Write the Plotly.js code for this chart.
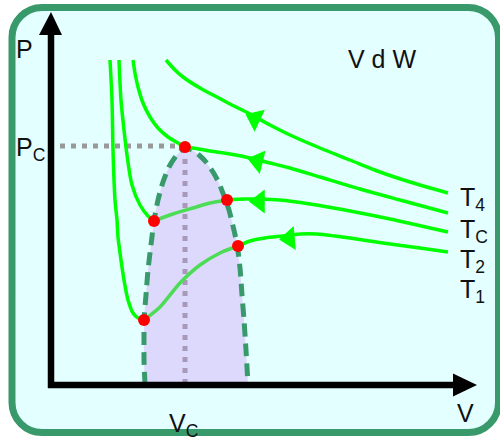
<!DOCTYPE html>
<html><head><meta charset="utf-8">
<script src="https://cdn.plot.ly/plotly-3.0.1.min.js"></script>
<style>html,body{margin:0;padding:0;background:#fff}#chart{width:500px;height:437px}</style>
</head><body><div id="chart"></div>
<script>
// ---- data (V, P in arbitrary units, origin at the axes corner) ----
const t1LeftV  = [59,61,62,64,66,67,70,73,77,82,87,93];
const t1LeftP  = [325,285,235,185,165,148,125,105,85,72,67,65];
const t1InV    = [93,109,129,149,169,187];
const t1InP    = [65,78,102,120,132,139];
const t1RightV = [187,199,214,232,249,266,284,299,332,369,397];
const t1RightP = [139,144,147,149,151,151,149,147,142,137,133];

const t2LeftV  = [68,70,73,76,81,89,97,103];
const t2LeftP  = [325,285,255,230,200,180,169,164];
const t2InV    = [103,122,142,159,176];
const t2InP    = [164,171,177,182,185];
const t2RightV = [176,194,209,229,259,299,339,397];
const t2RightP = [185,186,186,185,181,174,166,153];

const tcV = [82,84,87,92,99,107,117,127,134,142,159,179,199,219,239,269,309,349,397];
const tcP = [325,312,298,282,268,257,248,242,238,237,234,231,227,222,217,208,196,185,172];

const t4V = [115,124,132,149,166,179,199,219,239,269,299,329,359,397];
const t4P = [325,315,308,297,288,281,271,260,250,237,225,213,203,192];

const domeV = [94,93,93,93,95,97,100,103,107,112,118,125,131,135,141,148,155,162,168,173,178,182,186,189,191,193,195,197];
const domeP = [0,25,50,65,90,115,140,164,185,203,218,229,235,237,235,230,223,213,202,189,175,159,141,117,90,65,35,0];

const pointV = [93,103,134,176,187];
const pointP = [65,164,238,185,139];

const arrowV = [204,206.6,208.5,238.5];
const arrowP = [266.4,224,183.5,146.5];
const arrowAngle = [25,14,0,-5];

const critV = 134, critP = 238;
const labels = ["P","P<sub>C</sub>","V d W","T<sub>4</sub>","T<sub>C</sub>","T<sub>2</sub>","T<sub>1</sub>","V","V<sub>C</sub>"];

// ---- styles ----
const LIME = '#00ff00', INNER = '#4ddc55';
const FONT = {family:'Liberation Sans, Arial, sans-serif', size:25, color:'#111'};

function line(x,y,color,w,extra){
  return Object.assign({x:x,y:y,mode:'lines',type:'scatter',hoverinfo:'skip',
    line:{color:color,width:w,shape:'spline',smoothing:0.8}},extra||{});
}
const traces = [
  {x:domeV,y:domeP,mode:'lines',type:'scatter',fill:'toself',fillcolor:'#dcd9fc',
   line:{color:'#389a6b',width:5,dash:'13px,7px',shape:'spline',smoothing:0.6},hoverinfo:'skip'},
  {x:[critV,critV],y:[critP-1,2],mode:'lines',line:{color:'#a899b8',width:5,dash:'5px,6px'},hoverinfo:'skip'},
  {x:[9,critV],y:[critP+1,critP+1],mode:'lines',line:{color:'#999999',width:5,dash:'5px,6px'},hoverinfo:'skip'},
  line(t1LeftV,t1LeftP,LIME,3.5),
  line(t1InV,t1InP,INNER,3.5),
  line(t1RightV,t1RightP,LIME,3.5),
  line(t2LeftV,t2LeftP,LIME,3.5),
  line(t2InV,t2InP,INNER,3.5),
  line(t2RightV,t2RightP,LIME,3.5),
  line(tcV,tcP,LIME,3.5),
  line(t4V,t4P,LIME,3.5),
  {x:arrowV,y:arrowP,mode:'markers',type:'scatter',hoverinfo:'skip',
   marker:{symbol:'triangle-left',size:21,color:LIME,angle:arrowAngle,line:{width:0}}},
  {x:pointV,y:pointP,mode:'markers',type:'scatter',hoverinfo:'skip',
   marker:{size:12,color:'#ff0000',line:{width:0}}}
];

function roundRect(l,r,b,t,rad){
  const k=0.552*rad;
  return `M${l+rad},${t} L${r-rad},${t} C${r-rad+k},${t} ${r},${t-rad+k} ${r},${t-rad} `+
    `L${r},${b+rad} C${r},${b+rad-k} ${r-rad+k},${b} ${r-rad},${b} `+
    `L${l+rad},${b} C${l+rad-k},${b} ${l},${b+rad-k} ${l},${b+rad} `+
    `L${l},${t-rad} C${l},${t-rad+k} ${l+rad-k},${t} ${l+rad},${t} Z`;
}

const shapes = [
  {type:'path',xref:'x',yref:'y',layer:'below',path:roundRect(-39,447.5,-47.5,377.5,30),
   fillcolor:'#e3ffff',line:{color:'#389a6b',width:7}},
  {type:'line',xref:'x',yref:'y',layer:'above',x0:0,y0:-3,x1:0,y1:351,line:{color:'#000',width:6.5}},
  {type:'line',xref:'x',yref:'y',layer:'above',x0:-3,y0:0,x1:403,y1:0,line:{color:'#000',width:6.5}},
  {type:'path',xref:'x',yref:'y',layer:'above',path:'M-12,350 L11,350 L0,373 Z',fillcolor:'#000',line:{width:0}},
  {type:'path',xref:'x',yref:'y',layer:'above',path:'M402,11.5 L402,-11.5 L426,0 Z',fillcolor:'#000',line:{width:0}}
];

const pos = [
  [-37,336.5],[-37,236],[295,326.5],[407,185.7],[407,154.2],[407,124.2],[407,94.2],[404,-28],[116,-39.8]
];
const annotations = labels.map((t,i)=>({text:t,x:pos[i][0],y:pos[i][1],xref:'x',yref:'y',
  xanchor:'left',yanchor:'middle',showarrow:false,font:FONT}));

const layout = {
  width:500,height:437,margin:{l:0,r:0,t:0,b:0},
  paper_bgcolor:'#ffffff',plot_bgcolor:'#ffffff',showlegend:false,
  xaxis:{range:[-51,449],visible:false,fixedrange:true},
  yaxis:{range:[-52,385],visible:false,fixedrange:true},
  shapes:shapes,annotations:annotations
};
Plotly.newPlot('chart',traces,layout,{staticPlot:true,displayModeBar:false});
</script></body></html>
